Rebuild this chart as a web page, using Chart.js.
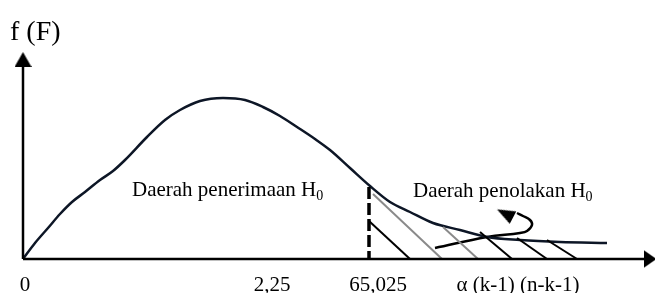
<!DOCTYPE html>
<html>
<head>
<meta charset="utf-8">
<script src="https://cdn.jsdelivr.net/npm/chart.js@4.4.1/dist/chart.umd.min.js"></script>
<style>
  html, body { margin: 0; padding: 0; background: #fff; }
  #wrap { width: 655px; height: 293px; position: relative; }
</style>
</head>
<body>
<div id="wrap"><canvas id="chart"></canvas></div>
<script>
// f(F) curve (units = px from the origin)
const curveX = [0, 12, 25, 37, 49, 62, 77, 90, 102, 124, 142, 157, 177, 200, 222, 240, 257, 274, 292, 307, 327, 347, 367, 387, 410, 437, 464, 497, 537, 584];
const curveY = [0, 16, 31, 45, 57, 67, 79, 88, 99, 122, 139, 149, 158, 161, 159, 152, 143, 132, 120, 109, 91, 73, 57, 47, 36, 29, 22, 19, 17, 16];

// critical value line (65,025)
const criticalX = [346, 346];
const criticalY = [72, 0];

// hatching of the rejection area
const hatchFromX = [346, 350, 420, 457, 494, 524];
const hatchFromY = [38, 65, 32, 27, 21, 19];
const hatchToX = [387, 419, 455, 489, 524, 554];
const hatchToY = [0, 0, 0, 0, 0, 0];

// curved arrow pointing at "Daerah penolakan"
const arrowX = [412, 464, 497, 504, 509, 507, 500, 494];
const arrowY = [11, 22, 26, 28, 34, 39, 43, 46];
const arrowHeadX = [482];
const arrowHeadY = [45.5];

// axes
const xAxisX = [0, 622];
const yAxisY = [0, 193];
const xArrowX = [627];
const yArrowY = [199.5];

// tick labels on the F axis
const tickLabels = ['0', '2,25', '65,025', 'α (k-1) (n-k-1)'];
const tickPositions = [2, 249, 355, 495];

const FONT = "'Liberation Serif', 'Times New Roman', serif";

const pts = (xs, ys) => xs.map((x, i) => ({ x: x, y: ys[i] }));

const lineSet = (data, color, width, extra) => Object.assign({
  data: data,
  showLine: true,
  borderColor: color,
  borderWidth: width,
  pointRadius: 0,
  fill: false,
  tension: 0
}, extra || {});

// arrow head image, tip at the top; rotated by pointRotation
function makeHead(w, h) {
  const c = document.createElement('canvas');
  c.width = w;
  c.height = h;
  const g = c.getContext('2d');
  g.fillStyle = '#000';
  g.beginPath();
  g.moveTo(w / 2, 0);
  g.lineTo(w, h);
  g.lineTo(0, h);
  g.closePath();
  g.fill();
  return c;
}

const hatchColors = ['#000000', '#8a8a8a', '#8a8a8a', '#000000', '#000000', '#000000'];

const datasets = [];

// axes
datasets.push(lineSet(pts(xAxisX, [0, 0]), '#000', 2.5));
datasets.push(lineSet(pts([0, 0], yAxisY), '#000', 2.5));

// hatch lines
hatchFromX.forEach((x0, i) => {
  datasets.push(lineSet(pts([x0, hatchToX[i]], [hatchFromY[i], hatchToY[i]]), hatchColors[i], 2));
});

// critical value (dashed)
datasets.push(lineSet(pts(criticalX, criticalY), '#000', 3.5, { borderDash: [12, 4] }));

// the distribution curve
datasets.push(lineSet(pts(curveX, curveY), '#0d1626', 2.5, { cubicInterpolationMode: 'monotone' }));

// curved arrow
datasets.push(lineSet(pts(arrowX, arrowY), '#000', 2.5, { tension: 0.4 }));

// arrow heads
const headSet = (data, rotation, img) => ({
  data: data,
  showLine: false,
  pointStyle: img,
  pointRotation: rotation,
  pointRadius: 8
});
datasets.push(headSet(pts(xArrowX, [0]), 90, makeHead(18, 13)));
datasets.push(headSet(pts([0], yArrowY), 0, makeHead(17, 15)));
datasets.push(headSet(pts(arrowHeadX, arrowHeadY), -62.7, makeHead(14, 18)));

// text drawn at data positions
const textPlugin = {
  id: 'diagramText',
  afterDatasetsDraw(chart, args, opts) {
    const { ctx, scales } = chart;
    ctx.save();
    ctx.fillStyle = '#000';
    ctx.textBaseline = 'alphabetic';
    opts.items.forEach(item => {
      const px = scales.x.getPixelForValue(item.x);
      const py = scales.y.getPixelForValue(item.y);
      ctx.font = item.size + 'px ' + FONT;
      ctx.textAlign = item.align || 'left';
      ctx.fillText(item.text, px, py);
      if (item.sub) {
        const w = ctx.measureText(item.text).width;
        ctx.textAlign = 'left';
        ctx.font = Math.round(item.size * 0.65) + 'px ' + FONT;
        ctx.fillText(item.sub, px + w, py + 4);
      }
    });
    // F axis tick labels
    ctx.font = '21px ' + FONT;
    ctx.textAlign = 'center';
    tickLabels.forEach((label, i) => {
      ctx.fillText(label, scales.x.getPixelForValue(tickPositions[i]), scales.y.getPixelForValue(-32));
    });
    ctx.restore();
  }
};

new Chart(document.getElementById('chart'), {
  type: 'scatter',
  data: { datasets: datasets },
  plugins: [textPlugin],
  options: {
    responsive: true,
    maintainAspectRatio: false,
    animation: false,
    events: [],
    layout: { padding: 0, autoPadding: false },
    clip: false,
    scales: {
      x: { type: 'linear', display: false, min: -23, max: 632 },
      y: { type: 'linear', display: false, min: -34, max: 259 }
    },
    plugins: {
      legend: { display: false },
      tooltip: { enabled: false },
      diagramText: {
        items: [
          { text: 'f (F)', x: -13, y: 219, size: 28 },
          { text: 'Daerah penerimaan H', sub: '0', x: 109, y: 63, size: 21 },
          { text: 'Daerah penolakan H', sub: '0', x: 390, y: 62, size: 21 }
        ]
      }
    }
  }
});
</script>
</body>
</html>
